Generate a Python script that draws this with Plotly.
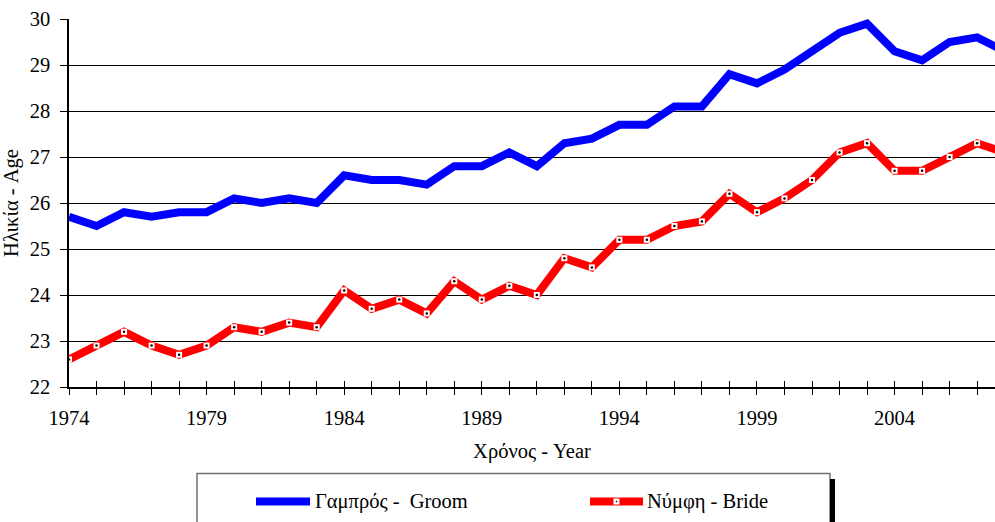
import plotly.graph_objects as go

# ---- data ----
years = list(range(1974, 2009))
groom = [25.7, 25.5, 25.8, 25.7, 25.8, 25.8, 26.1, 26.0, 26.1, 26.0,
         26.6, 26.5, 26.5, 26.4, 26.8, 26.8, 27.1, 26.8, 27.3, 27.4,
         27.7, 27.7, 28.1, 28.1, 28.8, 28.6, 28.9, 29.3, 29.7, 29.9,
         29.3, 29.1, 29.5, 29.6, 29.3]
bride = [22.6, 22.9, 23.2, 22.9, 22.7, 22.9, 23.3, 23.2, 23.4, 23.3,
         24.1, 23.7, 23.9, 23.6, 24.3, 23.9, 24.2, 24.0, 24.8, 24.6,
         25.2, 25.2, 25.5, 25.6, 26.2, 25.8, 26.1, 26.5, 27.1, 27.3,
         26.7, 26.7, 27.0, 27.3, 27.1]
tick_years = list(range(1974, 2008))
tick_labels = [str(y) if (y - 1974) % 5 == 0 else "" for y in tick_years]
groom_name = "Γαμπρός -\u00a0 Groom"
bride_name = "Νύμφη - Bride"
x_title = "Χρόνος - Year"
y_title = "Ηλικία - Age"

W, H = 995, 522
L, R, T, B = 69, 0, 19, 135
PW, PH = W - L - R, H - T - B
FONT = "Liberation Serif"
FS = 20.5


def px(x):
    return (x - L) / PW


def py(y):
    return (H - B - y) / PH


fig = go.Figure()
fig.add_trace(go.Scatter(x=years, y=groom, mode="lines", name=groom_name,
                         line=dict(color="#0000FF", width=8), showlegend=False))
fig.add_trace(go.Scatter(x=years, y=bride, mode="lines+markers", name=bride_name,
                         line=dict(color="#FF0000", width=8),
                         marker=dict(symbol="square", size=6, color="white",
                                     line=dict(width=0)),
                         showlegend=False))
fig.add_trace(go.Scatter(x=years, y=bride, mode="markers", xaxis="x2",
                         marker=dict(symbol="circle", size=2.5, color="black",
                                     line=dict(width=0)),
                         showlegend=False, hoverinfo="skip"))

# legend drawn by hand
shapes = [
    dict(type="rect", xref="paper", yref="paper", x0=px(197), x1=px(830),
         y0=py(540), y1=py(473.5), line=dict(color="#707070", width=1.5),
         fillcolor="white", layer="below"),
    dict(type="rect", xref="paper", yref="paper", x0=px(830), x1=px(835),
         y0=py(540), y1=py(479), line=dict(width=0), fillcolor="black"),
    dict(type="line", xref="paper", yref="paper", x0=px(256), x1=px(310),
         y0=py(501.5), y1=py(501.5), line=dict(color="#0000FF", width=8)),
    dict(type="line", xref="paper", yref="paper", x0=px(590), x1=px(643),
         y0=py(501.5), y1=py(501.5), line=dict(color="#FF0000", width=8)),
    dict(type="rect", xref="paper", yref="paper", x0=px(613.5), x1=px(619.5),
         y0=py(504.5), y1=py(498.5), line=dict(width=0), fillcolor="white"),
    dict(type="rect", xref="paper", yref="paper", x0=px(615.8), x1=px(617.2),
         y0=py(502.2), y1=py(500.8), line=dict(width=0), fillcolor="black"),
]
annotations = [
    dict(text=groom_name, xref="paper", yref="paper", x=px(313), y=py(501.5),
         xanchor="left", yanchor="middle", showarrow=False,
         font=dict(family=FONT, size=FS, color="black")),
    dict(text=bride_name, xref="paper", yref="paper", x=px(645), y=py(501.5),
         xanchor="left", yanchor="middle", showarrow=False,
         font=dict(family=FONT, size=FS, color="black")),
]

fig.update_layout(
    width=W, height=H,
    margin=dict(l=L, r=R, t=T, b=B),
    paper_bgcolor="white", plot_bgcolor="white",
    font=dict(family=FONT, size=FS, color="black"),
    showlegend=False,
    xaxis=dict(range=[1974, 2007.65], tickmode="array", tickvals=tick_years,
               ticktext=tick_labels, ticks="outside", ticklen=6, tickwidth=1,
               tickcolor="black", showline=True, linecolor="black", linewidth=2,
               showgrid=False, zeroline=False, tickfont=dict(size=FS),
               ticklabelstandoff=5,
               title=dict(text=x_title, font=dict(size=FS), standoff=16)),
    xaxis2=dict(overlaying="x", matches="x", anchor="y", side="bottom",
                tickmode="array", tickvals=tick_years, ticks="inside",
                ticklen=6, tickwidth=1, tickcolor="black",
                showticklabels=False, showgrid=False, zeroline=False,
                showline=False),
    yaxis=dict(range=[22, 30], tickmode="linear", tick0=22, dtick=1,
               ticks="outside", ticklen=7, tickwidth=1, tickcolor="black",
               showline=True, linecolor="black", linewidth=1.5,
               showgrid=True, gridcolor="black", gridwidth=1, zeroline=False,
               tickfont=dict(size=FS), ticklabelstandoff=6,
               title=dict(text=y_title, font=dict(size=FS), standoff=5)),
    shapes=shapes,
    annotations=annotations,
)

fig.write_html("out.html", config={"displayModeBar": False},
               post_script="document.body.style.margin='0';")
